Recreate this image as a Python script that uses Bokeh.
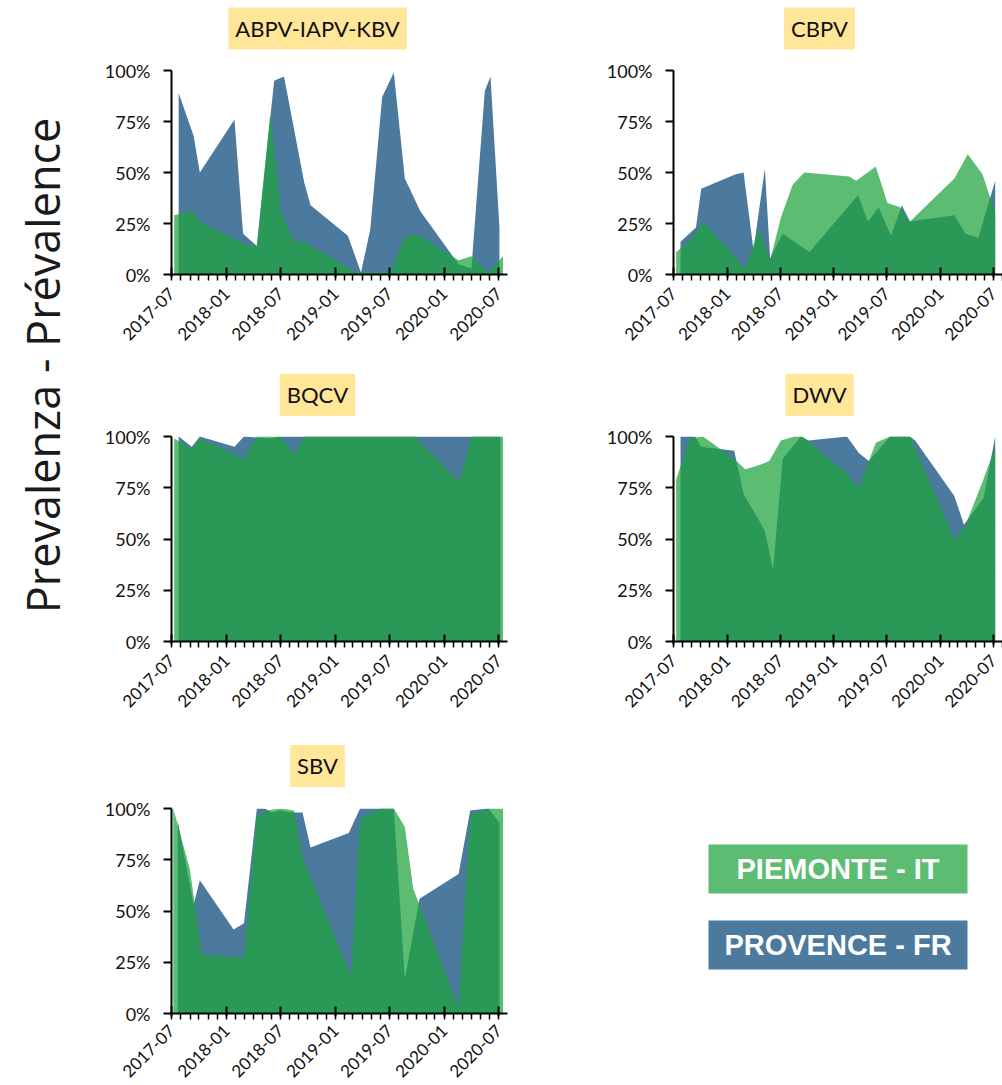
import math
import numpy as np
import pandas as pd
from bokeh.plotting import figure
from bokeh.models import Range1d, FixedTicker, DatetimeTickFormatter, Label, Spacer
from bokeh.layouts import row, column
from bokeh.embed import file_html
from bokeh.resources import INLINE
from bokeh.core.properties import value

# ---------------- data ----------------
PANEL_TITLES = ["ABPV-IAPV-KBV", "CBPV", "BQCV", "DWV", "SBV"]
SERIES_NAMES = ["PIEMONTE - IT", "PROVENCE - FR"]
Y_LABEL = "Prevalenza - Prévalence"
X_TICK_LABELS = ["2017-07", "2018-01", "2018-07", "2019-01", "2019-07", "2020-01", "2020-07"]
Y_TICKS = [0, 25, 50, 75, 100]
Y_TICK_LABELS = ["0%", "25%", "50%", "75%", "100%"]

ABPV_IT_DATES = ["2017-07-10", "2017-09-04", "2017-10-13", "2018-03-04", "2018-04-13", "2018-05-28",
                 "2018-07-04", "2018-08-16", "2018-09-19", "2019-03-01", "2019-03-28", "2019-06-01",
                 "2019-07-10", "2019-08-19", "2019-09-22", "2019-10-22", "2020-02-18", "2020-04-01",
                 "2020-05-28", "2020-07-16"]
ABPV_IT_VALUES = [29, 31, 25, 15, 14, 79, 30, 16, 16, 2, 1, 1, 2, 18, 20, 18, 7, 9, 1, 9]
ABPV_FR_DATES = ["2017-07-25", "2017-09-13", "2017-10-04", "2018-01-28", "2018-02-26", "2018-04-13",
                 "2018-06-10", "2018-07-13", "2018-09-19", "2018-10-10", "2019-02-12", "2019-03-28",
                 "2019-04-28", "2019-06-07", "2019-07-16", "2019-08-22", "2019-10-13", "2020-02-18",
                 "2020-04-01", "2020-05-16", "2020-06-04", "2020-07-04"]
ABPV_FR_VALUES = [89, 68, 50, 76, 20, 14, 95, 97, 45, 34, 19, 1, 22, 87, 99, 47, 31, 5, 3, 90, 97, 23]

CBPV_IT_DATES = ["2017-07-10", "2017-09-01", "2017-10-10", "2018-03-04", "2018-04-19", "2018-05-28",
                 "2018-07-04", "2018-08-13", "2018-09-22", "2019-02-23", "2019-03-19", "2019-05-25",
                 "2019-07-04", "2019-08-16", "2019-09-19", "2020-02-18", "2020-04-04", "2020-05-25",
                 "2020-07-07"]
CBPV_IT_VALUES = [11, 17, 26, 3, 22, 7, 28, 44, 50, 48, 46, 53, 35, 33, 26, 47, 59, 49, 30]
CBPV_FR_DATES = ["2017-07-25", "2017-09-16", "2017-10-04", "2018-01-28", "2018-02-26", "2018-04-01",
                 "2018-05-10", "2018-05-28", "2018-07-10", "2018-10-10", "2019-03-25", "2019-04-28",
                 "2019-06-04", "2019-07-16", "2019-08-22", "2019-09-19", "2020-02-18", "2020-03-28",
                 "2020-05-10", "2020-07-07"]
CBPV_FR_VALUES = [16, 23, 42, 49, 50, 12, 52, 8, 20, 11, 39, 26, 33, 19, 34, 26, 29, 20, 18, 46]

BQCV_IT_DATES = ["2017-07-10", "2017-09-07", "2017-10-04", "2018-03-01", "2018-04-13", "2018-07-01",
                 "2018-08-16", "2018-09-19", "2019-09-22", "2020-02-21", "2020-04-01", "2020-07-16"]
BQCV_IT_VALUES = [99, 94, 99, 89, 100, 100, 91, 100, 100, 78, 100, 100]
BQCV_FR_DATES = ["2017-07-25", "2017-09-07", "2017-10-04", "2018-01-28", "2018-03-01", "2018-05-28",
                 "2018-07-01", "2020-07-07"]
BQCV_FR_VALUES = [100, 95, 100, 95, 100, 99, 100, 100]

DWV_IT_DATES = ["2017-07-10", "2017-08-25", "2017-10-10", "2018-01-25", "2018-03-04", "2018-04-19",
                "2018-05-25", "2018-07-04", "2018-08-19", "2018-09-16", "2019-02-15", "2019-03-28",
                "2019-05-01", "2019-05-25", "2019-07-13", "2019-09-19", "2020-02-18", "2020-03-25",
                "2020-05-25", "2020-07-07"]
DWV_IT_VALUES = [79, 99, 100, 89, 84, 86, 88, 98, 100, 100, 82, 75, 88, 97, 100, 100, 50, 56, 78, 95]
DWV_FR_DATES = ["2017-07-25", "2017-09-13", "2017-10-04", "2018-01-25", "2018-02-26", "2018-04-04",
                "2018-05-10", "2018-06-07", "2018-07-10", "2018-09-10", "2018-10-07", "2019-02-15",
                "2019-03-28", "2019-05-01", "2019-05-25", "2019-07-13", "2019-09-19", "2019-10-07",
                "2020-02-18", "2020-03-22", "2020-05-28", "2020-07-07"]
DWV_FR_VALUES = [100, 100, 95, 93, 72, 63, 54, 35, 89, 100, 98, 100, 92, 88, 92, 100, 100, 98, 71, 57, 70, 100]

SBV_IT_DATES = ["2017-07-07", "2017-09-01", "2017-10-10", "2018-03-01", "2018-04-13", "2018-05-16",
                "2018-07-01", "2018-08-16", "2018-09-16", "2019-02-23", "2019-03-25", "2019-06-01",
                "2019-07-16", "2019-08-22", "2019-09-19", "2020-02-18", "2020-03-28", "2020-05-28",
                "2020-07-16"]
SBV_IT_VALUES = [100, 70, 29, 27, 96, 99, 100, 99, 75, 18, 95, 100, 100, 91, 61, 3, 97, 100, 100]
SBV_FR_DATES = ["2017-07-22", "2017-09-13", "2017-10-04", "2018-01-25", "2018-03-01", "2018-04-13",
                "2018-05-10", "2018-06-01", "2018-07-01", "2018-08-13", "2018-09-13", "2018-10-10",
                "2019-02-15", "2019-03-25", "2019-07-16", "2019-08-22", "2019-10-10", "2020-02-18",
                "2020-03-28", "2020-05-28", "2020-07-04"]
SBV_FR_VALUES = [94, 53, 65, 41, 44, 100, 100, 98, 99, 98, 98, 81, 88, 100, 100, 17, 56, 68, 99, 100, 93]

# ---------------- style ----------------
BLUE = "#4c7a9e"
GREEN = "#1da33b"
GREEN_ALPHA = 0.72
LEGEND_GREEN = "#5cbd72"
TITLE_BG = "#ffe699"
TICK_FONT = "Lato"
X_START = pd.Timestamp("2017-07-01")
EPOCH = pd.Timestamp("1970-01-01")


def to_ms(ts):
    return (pd.Timestamp(ts) - EPOCH) / pd.Timedelta(milliseconds=1)


MAJOR_MS = [to_ms(lbl + "-01") for lbl in X_TICK_LABELS]
MINOR_MS = [to_ms(d) for d in pd.date_range("2017-07-01", "2020-08-01", freq="MS")]


def bare_figure(width, height, x_range, y_range, **borders):
    f = figure(width=width, height=height, x_range=x_range, y_range=y_range,
               output_backend="svg", toolbar_location=None,
               x_axis_location=None, y_axis_location=None, **borders)
    f.grid.visible = False
    f.outline_line_color = None
    f.background_fill_color = "white"
    f.border_fill_color = "white"
    return f


def make_title(title, width, b_left, b_right, center_y):
    # strip above a panel; x in pixels from the panel frame's left edge, y in pixels from strip top
    frame_w = width - b_left - b_right
    t = bare_figure(width, 50, Range1d(0, frame_w), Range1d(50, 0),
                    min_border_left=b_left, min_border_right=b_right,
                    min_border_top=0, min_border_bottom=0)
    t.add_layout(Label(x=146, y=center_y, text=title, text_align="center", text_baseline="middle",
                       text_font=TICK_FONT, text_font_size="22px", text_color="#111111",
                       background_fill_color=TITLE_BG,
                       padding=dict(left=7, right=7, top=7, bottom=8)))
    return t


def make_panel(it_dates, it_vals, fr_dates, fr_vals, width, height,
               b_left, b_right, b_top, b_bottom, x_end, label_standoff=10):
    p = figure(width=width, height=height, x_axis_type="datetime",
               x_range=Range1d(X_START, pd.Timestamp(x_end)), y_range=Range1d(0, 100),
               output_backend="svg", toolbar_location=None,
               min_border_left=b_left, min_border_right=b_right,
               min_border_top=b_top, min_border_bottom=b_bottom)
    p.varea(x=pd.to_datetime(fr_dates), y1=0, y2=fr_vals, fill_color=BLUE, fill_alpha=1.0)
    p.varea(x=pd.to_datetime(it_dates), y1=0, y2=it_vals, fill_color=GREEN, fill_alpha=GREEN_ALPHA)

    p.grid.visible = False
    p.outline_line_color = None
    p.background_fill_color = "white"
    p.border_fill_color = "white"

    xa = p.xaxis[0]
    xa.ticker = FixedTicker(ticks=MAJOR_MS, minor_ticks=MINOR_MS)
    xa.formatter = DatetimeTickFormatter(months="%Y-%m", days="%Y-%m", years="%Y-%m",
                                         hours="%Y-%m", minutes="%Y-%m")
    xa.major_label_orientation = math.pi / 4
    xa.major_tick_in = 7
    xa.major_tick_out = 3
    xa.minor_tick_in = 0
    xa.minor_tick_out = 6
    xa.major_label_standoff = label_standoff

    ya = p.yaxis[0]
    ya.ticker = FixedTicker(ticks=Y_TICKS, minor_ticks=[])
    ya.major_label_overrides = {t: l for t, l in zip(Y_TICKS, Y_TICK_LABELS)}
    ya.major_tick_in = 0
    ya.major_tick_out = 8
    ya.major_label_standoff = 13

    for ax in (xa, ya):
        ax.axis_line_color = "#000000"
        ax.axis_line_width = 2
        ax.major_tick_line_color = "#000000"
        ax.major_tick_line_width = 2
        ax.minor_tick_line_color = "#000000"
        ax.minor_tick_line_width = 1.5
        ax.major_label_text_font = TICK_FONT
        ax.major_label_text_color = "#111111"
    xa.major_label_text_font_size = "17px"
    ya.major_label_text_font_size = "18px"
    return p


LEFT_W, RIGHT_W = 502, 399
LEFT_B = (70, 96)
RIGHT_B = (70, 0)
LEFT_END, RIGHT_END = "2020-07-31", "2020-08-01"

t1 = make_title(PANEL_TITLES[0], LEFT_W, *LEFT_B, 28)
t2 = make_title(PANEL_TITLES[1], RIGHT_W, *RIGHT_B, 28)
t3 = make_title(PANEL_TITLES[2], LEFT_W, *LEFT_B, 24.5)
t4 = make_title(PANEL_TITLES[3], RIGHT_W, *RIGHT_B, 24.5)
t5 = make_title(PANEL_TITLES[4], LEFT_W, *LEFT_B, 25.5)

p1 = make_panel(ABPV_IT_DATES, ABPV_IT_VALUES, ABPV_FR_DATES, ABPV_FR_VALUES,
                LEFT_W, 320, *LEFT_B, 20, 96, LEFT_END)
p2 = make_panel(CBPV_IT_DATES, CBPV_IT_VALUES, CBPV_FR_DATES, CBPV_FR_VALUES,
                RIGHT_W, 320, *RIGHT_B, 20, 96, RIGHT_END)
p3 = make_panel(BQCV_IT_DATES, BQCV_IT_VALUES, BQCV_FR_DATES, BQCV_FR_VALUES,
                LEFT_W, 320, *LEFT_B, 16, 99, LEFT_END)
p4 = make_panel(DWV_IT_DATES, DWV_IT_VALUES, DWV_FR_DATES, DWV_FR_VALUES,
                RIGHT_W, 320, *RIGHT_B, 16, 99, RIGHT_END)
p5 = make_panel(SBV_IT_DATES, SBV_IT_VALUES, SBV_FR_DATES, SBV_FR_VALUES,
                LEFT_W, 295, *LEFT_B, 18, 72, LEFT_END, label_standoff=8)

# big y label (page coordinates: fig spans x 0..101, y 0..740)
lab = bare_figure(101, 740, Range1d(0, 101), Range1d(740, 0), min_border=0)
lab.text(x=[42], y=[365], text=[Y_LABEL], angle=math.pi / 2, text_align="center",
         text_baseline="middle", text_font=value("Open Sans"), text_font_size="45px",
         text_color="#1a1a1a")

# legend: same borders as p5, so its frame spans page x 673..1002 and page y 808..1013
leg = bare_figure(RIGHT_W, 295, Range1d(673, 1002), Range1d(1013, 808),
                  min_border_left=70, min_border_right=0, min_border_top=18, min_border_bottom=72)
leg.quad(left=[708, 708], right=[967, 967], top=[844, 920], bottom=[893, 969],
         fill_color=[LEGEND_GREEN, BLUE], line_color=None)
leg.text(x=[837.5, 837.5], y=[868.5, 944.5], text=SERIES_NAMES, text_align="center",
         text_baseline="middle", text_font=value("Liberation Sans"), text_font_style="bold",
         text_font_size="29px", text_color="white")

layout = column(
    row(lab, column(row(column(t1, p1), column(t2, p2)),
                    row(column(t3, p3), column(t4, p4)))),
    row(Spacer(width=101, height=345), column(t5, p5), column(Spacer(width=RIGHT_W, height=50), leg)),
)

open("out.html", "w").write(file_html(layout, INLINE))
